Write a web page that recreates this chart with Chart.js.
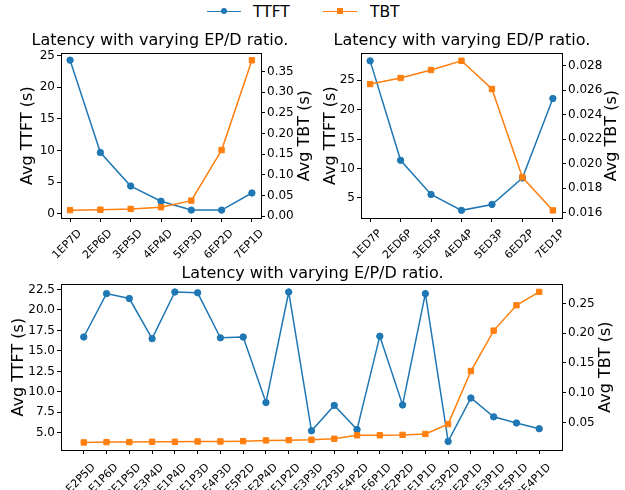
<!DOCTYPE html>
<html>
<head>
<meta charset="utf-8">
<script src="https://cdn.jsdelivr.net/npm/chart.js@4.4.0/dist/chart.umd.min.js"></script>
<style>
  body { margin: 0; background: #fff; width: 625px; height: 490px; overflow: hidden; position: relative; font-family: 'DejaVu Sans'; }
  canvas { position: absolute; left: 0; top: 0; }
  .ln { position: absolute; top: 10.5px; width: 34px; height: 1.6px; }
  .mk { position: absolute; top: 8px; width: 6px; height: 6px; }
  .tx { position: absolute; top: 2px; font-size: 15.5px; line-height: 20px; color: #000; }
</style>
</head>
<body>
<div class="ln" style="left:207px;background:#1f77b4"></div>
<div class="mk" style="left:221px;background:#1f77b4;border-radius:50%"></div>
<div class="tx" style="left:253px">TTFT</div>
<div class="ln" style="left:323px;background:#ff7f0e"></div>
<div class="mk" style="left:337px;background:#ff7f0e"></div>
<div class="tx" style="left:370px">TBT</div>

<canvas id="c1" width="625" height="490"></canvas>
<canvas id="c2" width="625" height="490"></canvas>
<canvas id="c3" width="625" height="490"></canvas>
<script>
// EP/D split
const epdLabels = ['1EP7D', '2EP6D', '3EP5D', '4EP4D', '5EP3D', '6EP2D', '7EP1D'];
const epdTTFT = [24.3, 9.7, 4.4, 2.0, 0.6, 0.6, 3.3];
const epdTBT = [0.015, 0.016, 0.018, 0.022, 0.038, 0.160, 0.377];

// ED/P split
const edpLabels = ['1ED7P', '2ED6P', '3ED5P', '4ED4P', '5ED3P', '6ED2P', '7ED1P'];
const edpTTFT = [28.3, 11.4, 5.6, 2.9, 3.9, 8.4, 21.9];
const edpTBT = [0.0265, 0.0270, 0.02765, 0.0284, 0.0261, 0.0189, 0.0162];

// E/P/D split
const allLabels = ['1E2P5D', '1E1P6D', '2E1P5D', '1E3P4D', '3E1P4D', '4E1P3D', '1E4P3D', '1E5P2D', '2E2P4D', '5E1P2D', '2E3P3D',
  '3E2P3D', '2E4P2D', '1E6P1D', '4E2P2D', '6E1P1D', '3E3P2D', '5E2P1D', '4E3P1D', '2E5P1D', '3E4P1D'];
const allTTFT = [16.7, 22.0, 21.4, 16.5, 22.2, 22.1, 16.6, 16.7, 8.7, 22.2, 5.25,
  8.35, 5.4, 16.8, 8.4, 22.0, 3.95, 9.25, 6.95, 6.2, 5.5];
const allTBT = [0.0163, 0.0169, 0.0169, 0.0174, 0.0174, 0.018, 0.018, 0.0185, 0.0197, 0.0202, 0.0208,
  0.0225, 0.0284, 0.0284, 0.029, 0.0306, 0.0472, 0.1365, 0.2045, 0.2472, 0.2697];

const leftLabel = 'Avg TTFT (s)';
const rightLabel = 'Avg TBT (s)';

const BLUE = '#1f77b4';
const ORANGE = '#ff7f0e';

Chart.defaults.font.family = 'DejaVu Sans';
Chart.defaults.color = '#000';
Chart.defaults.animation = false;

// axes box like matplotlib spines
const frame = {
  id: 'frame',
  afterDraw(chart) {
    const a = chart.chartArea, c = chart.ctx;
    c.save();
    c.strokeStyle = '#000';
    c.lineWidth = 1;
    c.strokeRect(Math.round(a.left) + 0.5, Math.round(a.top) + 0.5, Math.round(a.right - a.left), Math.round(a.bottom - a.top));
    c.restore();
  }
};

// right y title reads bottom-to-top, as in matplotlib
const rightTitle = {
  id: 'rightTitle',
  afterDraw(chart, args, opts) {
    const s = chart.scales.y1, a = chart.chartArea, c = chart.ctx;
    c.save();
    c.translate(s.right - opts.offset, (a.top + a.bottom) / 2);
    c.rotate(-Math.PI / 2);
    c.font = '16px "DejaVu Sans"';
    c.fillStyle = '#000';
    c.textAlign = 'center';
    c.textBaseline = 'middle';
    c.fillText(opts.text, 0, 0);
    c.restore();
  }
};

function tickGrid() {
  return { drawOnChartArea: false, drawTicks: true, tickLength: 4, color: '#000', lineWidth: 1 };
}

function makeChart(id, labels, ttft, tbt, o) {
  const pts = vals => vals.map((v, i) => ({ x: i, y: v }));
  return new Chart(document.getElementById(id), {
    type: 'line',
    data: {
      datasets: [
        { label: 'TTFT', data: pts(ttft), yAxisID: 'y', borderColor: BLUE, backgroundColor: BLUE,
          pointStyle: 'circle', pointRadius: 3.2, pointBorderWidth: 1, borderWidth: 1.5, order: 1 },
        { label: 'TBT', data: pts(tbt), yAxisID: 'y1', borderColor: ORANGE, backgroundColor: ORANGE,
          pointStyle: 'rect', pointRadius: 3.8, pointBorderWidth: 1, borderWidth: 1.5, order: 0 }
      ]
    },
    options: {
      responsive: false,
      animation: false,
      layout: { padding: o.pad },
      plugins: {
        legend: { display: false },
        tooltip: { enabled: false },
        title: { display: true, text: o.title, font: { size: 16, weight: 'normal', lineHeight: 1.2 },
          color: '#000', padding: o.titlePad },
        rightTitle: { text: rightLabel, offset: o.rOff }
      },
      scales: {
        x: {
          type: 'linear', min: o.xmin, max: o.xmax,
          afterFit: s => { s.height = o.xh; },
          grid: tickGrid(), border: { display: false },
          ticks: { stepSize: 1, autoSkip: false, includeBounds: false, minRotation: 45, maxRotation: 45,
            labelOffset: 10, padding: o.lblPad, font: { size: 11 },
            callback: v => labels[v] }
        },
        y: {
          type: 'linear', position: 'left', min: o.y[0], max: o.y[1],
          afterFit: s => { s.width = o.lw; },
          grid: tickGrid(), border: { display: false },
          ticks: { stepSize: o.y[2], includeBounds: false, padding: 2, font: { size: 12 },
            callback: v => v.toFixed(o.y[3]) },
          title: { display: true, text: leftLabel, font: { size: 16, lineHeight: 1.2 }, color: '#000',
            padding: { top: o.ltp, bottom: 0 } }
        },
        y1: {
          type: 'linear', position: 'right', min: o.y1[0], max: o.y1[1],
          afterFit: s => { s.width = o.rw; },
          grid: tickGrid(), border: { display: false },
          ticks: { stepSize: o.y1[2], includeBounds: false, padding: 2, font: { size: 12 },
            callback: v => v.toFixed(o.y1[3]) }
        }
      }
    },
    plugins: [frame, rightTitle]
  });
}

makeChart('c1', epdLabels, epdTTFT, epdTBT, {
  title: 'Latency with varying EP/D ratio.',
  pad: { left: 0, right: 305, top: 22, bottom: 212 },
  titlePad: { top: 9, bottom: 3 },
  xmin: -0.3, xmax: 6.3, xh: 60, lblPad: 5,
  y: [-0.65, 25.4, 5, 0], y1: [-0.004, 0.394, 0.05, 2],
  lw: 61, rw: 59, ltp: 18, rOff: 15
});

makeChart('c2', edpLabels, edpTTFT, edpTBT, {
  title: 'Latency with varying ED/P ratio.',
  pad: { left: 299, right: 0, top: 22, bottom: 212 },
  titlePad: { top: 9, bottom: 3 },
  xmin: -0.3, xmax: 6.3, xh: 60, lblPad: 5,
  y: [1.6, 29.6, 5, 0], y1: [0.01558, 0.02902, 0.002, 3],
  lw: 62, rw: 63, ltp: 22, rOff: 13
});

makeChart('c3', allLabels, allTTFT, allTBT, {
  title: 'Latency with varying E/P/D ratio.',
  pad: { left: 0, right: 0, top: 264, bottom: 0 },
  titlePad: { top: 0, bottom: 1 },
  xmin: -1, xmax: 21, xh: 40, lblPad: 7,
  y: [2.9, 23.15, 2.5, 1], y1: [0.0036, 0.2826, 0.05, 2],
  lw: 61, rw: 63, ltp: 9, rOff: 19.5
});
</script>
</body>
</html>
